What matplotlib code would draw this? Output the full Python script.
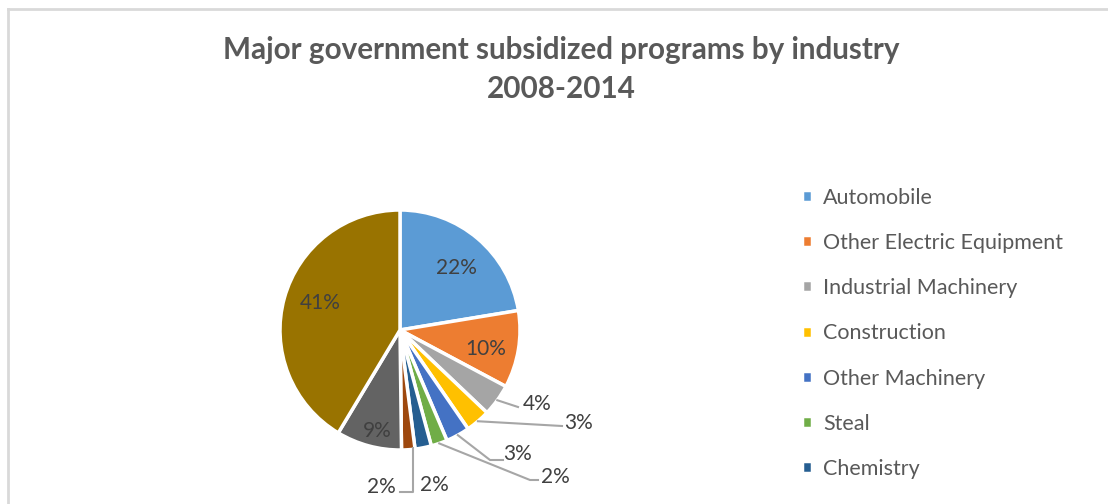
import matplotlib.pyplot as plt
from matplotlib.lines import Line2D
import numpy as np

plt.rcParams['font.family'] = ['Lato', 'DejaVu Sans']

# slice shares (percent), clockwise from 12 o'clock
industries = ["Automobile", "Other Electric Equipment", "Industrial Machinery",
              "Construction", "Other Machinery", "Steal", "Chemistry",
              "Other 1", "Other 2", "Other 3"]
shares = [22.4, 10.4, 4.3, 3.3, 3.2, 2.2, 2.2, 1.8, 8.8, 41.4]
colors = ["#5B9BD5", "#ED7D31", "#A5A5A5", "#FFC000", "#4472C4",
          "#70AD47", "#255E91", "#9E480E", "#636363", "#997300"]
legend_count = 7

# label layout in image pixels (x, y from top)
label_pos = [(456, 268), (486, 349), (537, 404), (579, 423), (518, 454),
             (555, 477), (434, 485), (381, 487), (377, 431), (320, 303)]
leaders = [None, None, [(518, 407)], [(562, 426)], [(490, 460), (503, 460)],
           [(530, 480), (538, 480)], None, [(413, 492), (400, 492)], None, None]

W, H = 1108, 504
fig = plt.figure(figsize=(W / 100, H / 100), dpi=100)
ax = fig.add_axes([0, 0, 1, 1])

cx, cy, r = 400, 330, 120
wedges, _ = ax.pie(shares, colors=colors, startangle=90, counterclock=False,
                   center=(cx, H - cy), radius=r, frame=True,
                   wedgeprops=dict(edgecolor="white", linewidth=2.5))
ax.set_xlim(0, W)
ax.set_ylim(0, H)
ax.axis("off")

total = sum(shares)
for i, w in enumerate(wedges):
    pct = shares[i] / total * 100
    x, y = label_pos[i]
    ax.text(x, H - y, f"{pct:.0f}%", ha="center", va="center",
            fontsize=15, color="#404040")
    if leaders[i] is not None:
        mid = np.deg2rad((w.theta1 + w.theta2) / 2)
        pts = [(cx + r * np.cos(mid), H - cy + r * np.sin(mid))]
        if i == 7:
            pts = [(leaders[i][0][0], H - cy - r + 2)]
        pts += [(px, H - py) for px, py in leaders[i]]
        xs, ys = zip(*pts)
        ax.plot(xs, ys, color="#A6A6A6", linewidth=1.5)

fig.text(561, H - 50, "Major government subsidized programs by industry",
         transform=None, ha="center", va="center", fontsize=21.3,
         fontweight="bold", color="#595959")
fig.text(561, H - 89, "2008-2014", transform=None, ha="center", va="center",
         fontsize=21.3, fontweight="bold", color="#595959")

fig.legend(wedges[:legend_count], industries[:legend_count],
           loc="upper left", bbox_to_anchor=(791 / W, 1 - 177 / H),
           frameon=False, fontsize=15.5, handlelength=0.48, handleheight=0.48,
           handletextpad=0.5, labelspacing=1.17, labelcolor="#595959",
           borderpad=0)

# chart frame (top and left edges visible)
fig.add_artist(Line2D([8 / W, 1], [1 - 9 / H, 1 - 9 / H], color="#D9D9D9", linewidth=2))
fig.add_artist(Line2D([8 / W, 8 / W], [0, 1 - 9 / H], color="#D9D9D9", linewidth=2))

fig.savefig("out.png", dpi=100)
